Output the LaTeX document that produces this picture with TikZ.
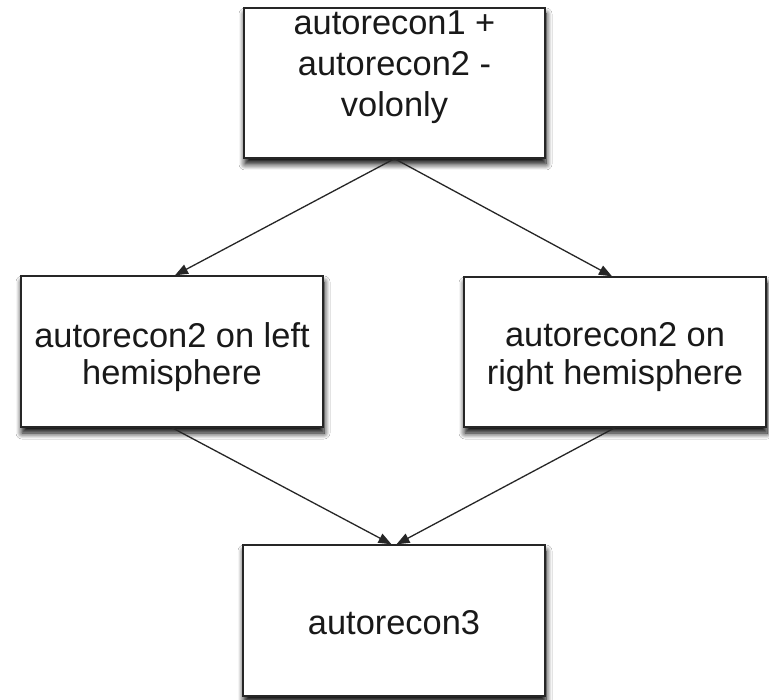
\documentclass[tikz,border=0pt]{standalone}
\usepackage{fontspec}
\setmainfont{Liberation Sans}
\usetikzlibrary{arrows.meta,shadows.blur}
\tikzset{
  stepbox/.style={draw=black!85, line width=1.4pt, fill=white, rectangle,
    minimum width=302pt, minimum height=151pt, inner sep=0pt,
    blur shadow={shadow xshift=1pt, shadow yshift=-6pt, shadow blur radius=6pt,
      shadow blur steps=8, shadow opacity=100}},
  label/.style={font=\fontsize{34.4}{41}\selectfont, align=center, text=black!90,
    inner sep=0pt},
  sidelabel/.style={label, font=\fontsize{34.4}{37.5}\selectfont},
  flow/.style={draw=black!85, line width=1.3pt,
    -{Triangle[length=13pt,width=10pt]}}
}
\begin{document}
\begin{tikzpicture}[x=1pt,y=-1pt]
  \useasboundingbox[fill=white] (0,0) rectangle (769,700);
  % boxes
  \node[stepbox, minimum width=301pt, minimum height=150pt] (top) at (394.5,83) {};
  \node[stepbox] (left) at (172,351.5) {};
  \node[stepbox, minimum height=150pt] (right) at (615,352) {};
  \node[stepbox] (bot) at (394,620.5) {};
  % box texts
  \node[label] (toptext) at (top.center |- 0,67) {autorecon1 +\\autorecon2 -\\volonly};
  \node[sidelabel] (lefttext) at (left.center |- 0,357) {autorecon2 on left\\hemisphere};
  \node[sidelabel] (righttext) at (right.center |- 0,357) {autorecon2 on\\right hemisphere};
  \node[label] (bottext) at (bot.center |- 0,622.5) {autorecon3};
  % connectors
  \draw[flow] (top.south) -- ([xshift=3pt]left.north);
  \draw[flow] (top.south) -- ([xshift=-3pt]right.north);
  \draw[flow] (left.south) -- ([xshift=-2.5pt]bot.north);
  \draw[flow] (right.south) -- ([xshift=2.5pt]bot.north);
\end{tikzpicture}
\end{document}
